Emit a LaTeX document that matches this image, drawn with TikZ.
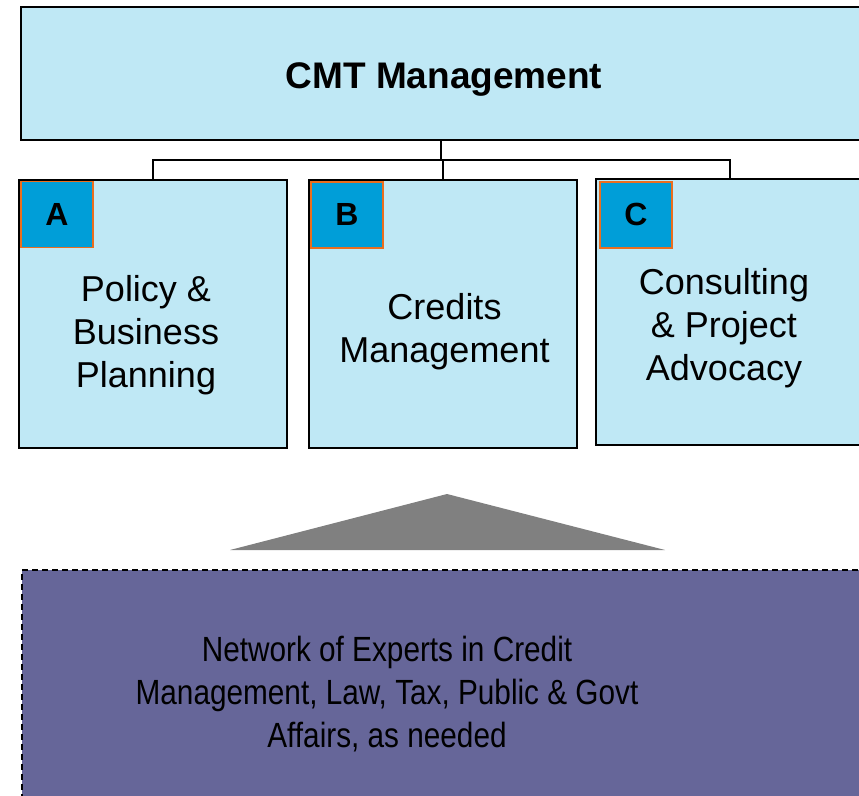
\documentclass[tikz,border=0pt]{standalone}
\usepackage{fontspec}
\setmainfont{Liberation Sans}
\newfontfamily\narrowfont[FakeStretch=0.85]{Liberation Sans}
\usetikzlibrary{positioning}

\definecolor{unitfill}{RGB}{191,232,245}
\definecolor{tagfill}{RGB}{0,158,216}
\definecolor{tagline}{RGB}{235,110,30}
\definecolor{poolfill}{RGB}{102,102,153}
\definecolor{wedgegray}{RGB}{128,128,128}

\begin{document}
\begin{tikzpicture}[x=1pt, y=-1pt,
  unit/.style={draw, line width=1.6pt, fill=unitfill, minimum width=268pt, minimum height=268pt, inner sep=0pt},
  tag/.style={draw=tagline, line width=1.5pt, fill=tagfill, minimum width=72pt, minimum height=66pt, inner sep=0pt,
    anchor=north west, font=\fontsize{32}{38}\selectfont\bfseries},
  unittext/.style={align=center, inner sep=0pt, font=\fontsize{36}{43}\selectfont},
  link/.style={line width=1.4pt}]
  \clip (0,0) rectangle (859,795);
  \fill[white] (0,0) rectangle (859,795);

  % head
  \node[draw, line width=1.6pt, fill=unitfill, minimum width=849pt, minimum height=133pt] (cmt) at (445.5,73.5) {};
  \node[inner sep=0pt, font=\fontsize{37}{44}\selectfont\bfseries] (cmttext) at (444,79.5) {CMT Management};

  % units
  \node[unit] (A) at (153,314) {};
  \node[unit] (B) at (443,314) {};
  \node[unit, minimum height=266pt] (C) at (730,312) {};

  \node[tag] (tagA) at ([shift={(2,1.5)}]A.north west) {A};
  \node[tag] (tagB) at ([shift={(2,2)}]B.north west) {B};
  \node[tag] (tagC) at ([shift={(4,3)}]C.north west) {C};

  \node[unittext] (textA) at (146,335) {Policy \&\\Business\\Planning};
  \node[unittext] (textB) at (444.5,332) {Credits\\Management};
  \node[unittext] (textC) at (724,328) {Consulting\\\& Project\\Advocacy};

  % links
  \coordinate (bus) at (441,160);
  \draw[link] (bus) -- (bus |- cmt.south);
  \draw[link] (A.north) |- (bus) -| (C.north);
  \draw[link] (B.north) -- (B.north |- bus);

  % experts
  \fill[wedgegray] (447,494) -- (665,550) -- (230,550) -- cycle;
  \node[draw, dashed, dash pattern=on 6pt off 4pt, line width=1.5pt, fill=poolfill,
    minimum width=858pt, minimum height=250pt] (pool) at (451,695) {};
  \node[align=center, inner sep=0pt, font=\narrowfont\fontsize{35}{43}\selectfont] (pooltext) at (387,694)
    {Network of Experts in Credit\\Management, Law, Tax, Public \& Govt\\Affairs, as needed};
\end{tikzpicture}
\end{document}
